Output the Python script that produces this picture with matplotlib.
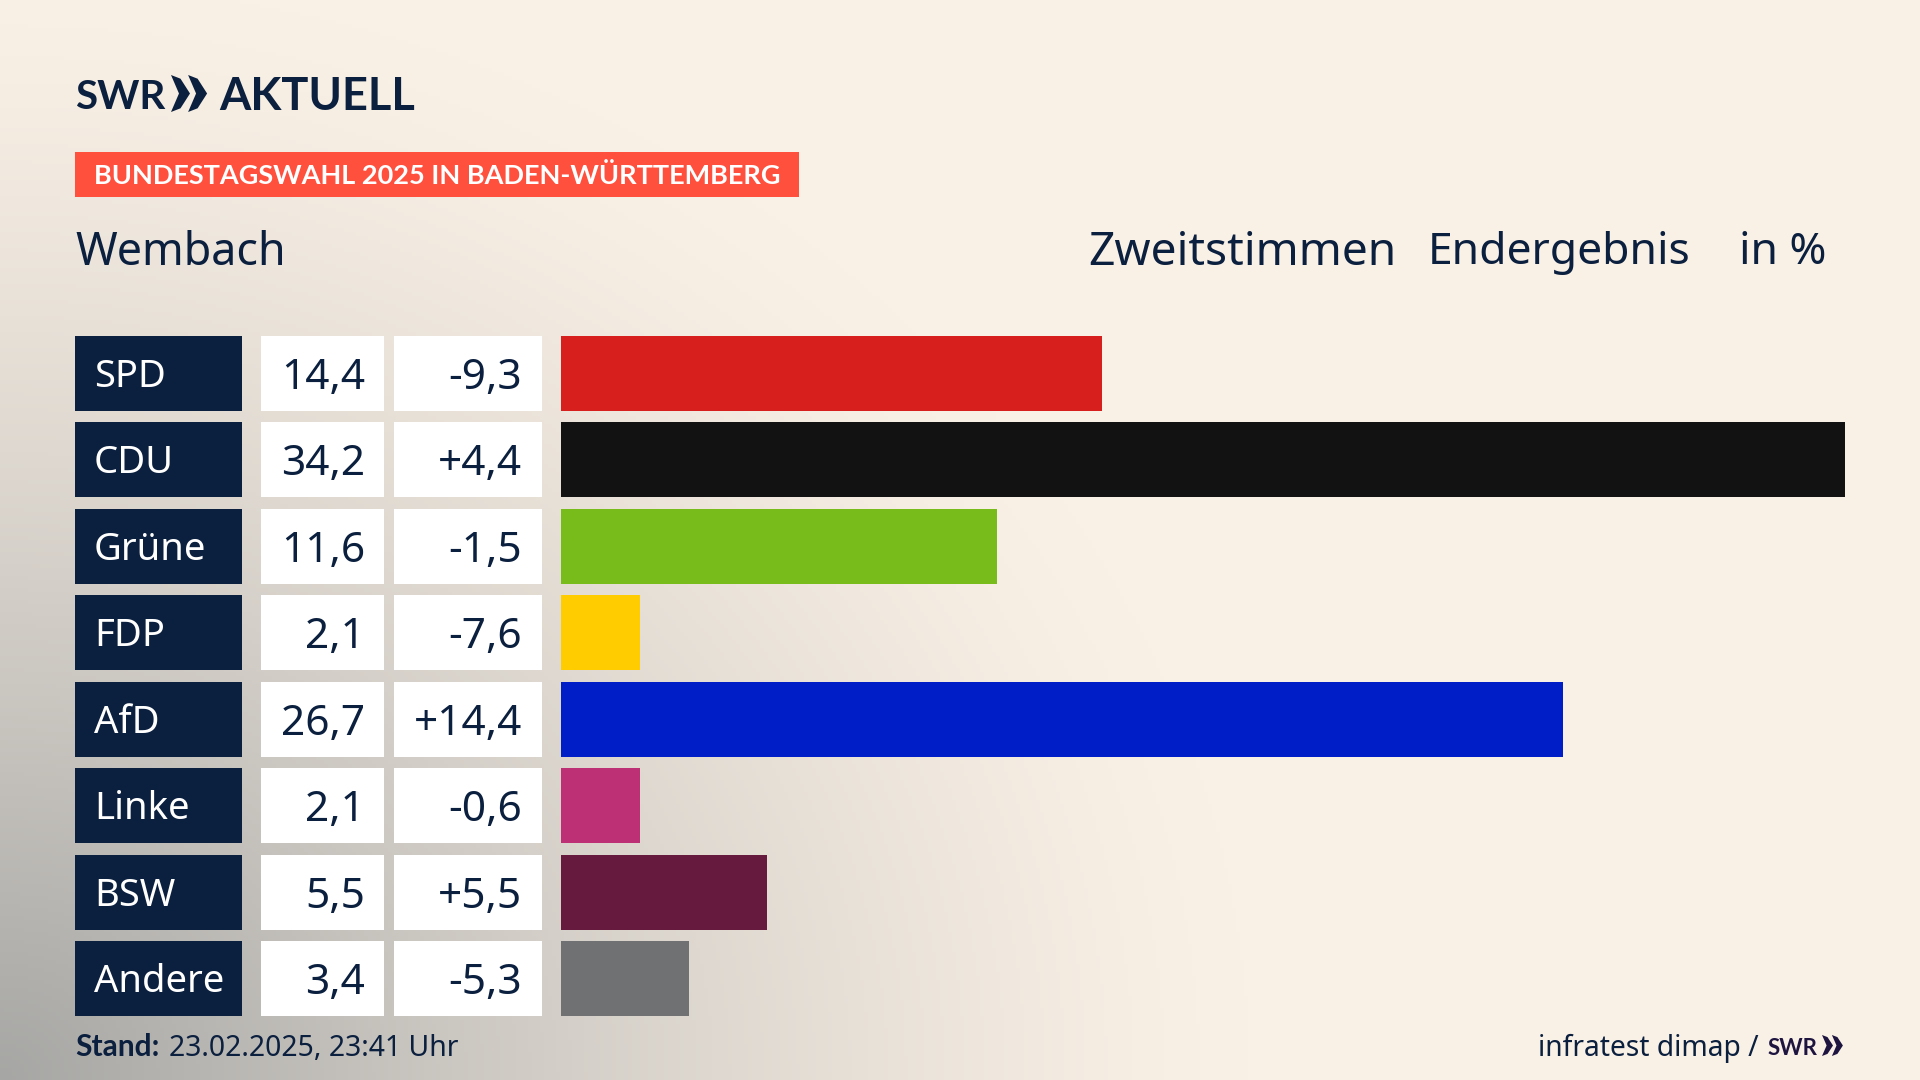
import numpy as np
import matplotlib
matplotlib.use("Agg")
import matplotlib.pyplot as plt
from matplotlib.patches import Rectangle, Polygon

parties = ["SPD", "CDU", "Grüne", "FDP", "AfD", "Linke", "BSW", "Andere"]
results = [14.4, 34.2, 11.6, 2.1, 26.7, 2.1, 5.5, 3.4]
changes = [-9.3, 4.4, -1.5, -7.6, 14.4, -0.6, 5.5, -5.3]
colors = ["#D71F1D", "#121212", "#78BC1B", "#FFCC00", "#001EC8", "#BD3075", "#661A3E", "#707173"]

navy = "#0B1F3E"
cream = np.array([250, 241, 230]) / 255
grey = np.array([166, 166, 164]) / 255
plt.rcParams['font.family'] = ['Noto Sans', 'DejaVu Sans']
bold_font = ["Lato", "DejaVu Sans"]

fig = plt.figure(figsize=(19.2, 10.8), dpi=100)

# full figure axes in pixels, y going down
bg = fig.add_axes([0, 0, 1, 1])
bg.set_xlim(0, 1920)
bg.set_ylim(1080, 0)
bg.axis("off")

# grey glow from the lower left corner
yy, xx = np.mgrid[0:1080:270j, 0:1920:480j]
t = np.clip(np.sqrt((xx / 1250) ** 2 + ((1080 - yy) / 1100) ** 2), 0, 1)
mix = (1 - t)[..., None] ** 1.3
bg.imshow(cream + (grey - cream) * mix, extent=(0, 1920, 1080, 0), aspect="auto", zorder=0)


def chevrons(ax, x, top, bottom, width, color):
    mid = (top + bottom) / 2
    for off in (0, width * 0.9):
        ax.add_patch(Polygon([(x + off, top), (x + off + width * 0.5, top + (bottom - top) * 0.1),
                              (x + off + width, mid), (x + off + width * 0.5, bottom - (bottom - top) * 0.1),
                              (x + off, bottom), (x + off + width * 0.42, mid)],
                             closed=True, fc=color, ec="none", zorder=3))


# logo
bg.text(75, 109, "SWR", fontsize=29, fontweight="bold", color=navy, family=bold_font, va="baseline")
chevrons(bg, 171, 75, 112, 19, navy)
bg.text(219, 110, "AKTUELL", fontsize=32.5, fontweight="bold", color=navy, family=bold_font, va="baseline")

# banner
bg.add_patch(Rectangle((75, 152), 724, 45, fc="#FF4F3D", ec="none", zorder=2))
bg.text(94, 184, "BUNDESTAGSWAHL 2025 IN BADEN-WÜRTTEMBERG", fontsize=19.5, fontweight="bold", color="white", family=bold_font, va="baseline", zorder=3)

# header
bg.text(75, 265, "Wembach", fontsize=32.3, color=navy, va="baseline")
bg.text(1088, 265, "Zweitstimmen", fontsize=33.2, color=navy, va="baseline")
bg.text(1428, 264, "Endergebnis", fontsize=32, color=navy, va="baseline")
bg.text(1739, 264, "in %", fontsize=32, color=navy, va="baseline")

# left table
row_top = 336
row_h = 75
row_step = 86.43
for i, party in enumerate(parties):
    top = row_top + i * row_step
    base = top + row_h / 2 + 14.5
    bg.add_patch(Rectangle((75, top), 167, row_h, fc=navy, ec="none", zorder=2))
    bg.add_patch(Rectangle((261, top), 123, row_h, fc="white", ec="none", zorder=2))
    bg.add_patch(Rectangle((394, top), 148, row_h, fc="white", ec="none", zorder=2))
    bg.text(94, base - 1, party, fontsize=27.5, color="white", va="baseline", zorder=3)
    bg.text(365, base + 1, f"{results[i]:.1f}".replace(".", ","), fontsize=30.5, color=navy, ha="right", va="baseline", zorder=3)
    bg.text(522, base + 1, f"{changes[i]:+.1f}".replace(".", ","), fontsize=30.5, color=navy, ha="right", va="baseline", zorder=3)

# bars
ax = fig.add_axes([561 / 1920, 1 - 1016 / 1080, 1284 / 1920, 680 / 1080])
ax.patch.set_alpha(0)
bar_h = row_h / row_step
ax.barh(range(len(parties)), results, height=bar_h, color=colors)
ax.set_xlim(0, max(results))
ax.set_ylim(len(parties) - 1 + bar_h / 2, -bar_h / 2)
ax.axis("off")

# footer
bg.text(75, 1056, "Stand:", fontsize=21.5, fontweight="bold", color=navy, family=bold_font, va="baseline")
bg.text(169, 1056, "23.02.2025, 23:41 Uhr", fontsize=20.4, color=navy, va="baseline")
bg.text(1538, 1056, "infratest dimap /", fontsize=20.3, color=navy, va="baseline")
bg.text(1768, 1055, "SWR", fontsize=16, fontweight="bold", color="#1E1440", family=bold_font, va="baseline")
chevrons(bg, 1822, 1035, 1056, 11, "#1E1440")

fig.savefig("out.png", dpi=100)
